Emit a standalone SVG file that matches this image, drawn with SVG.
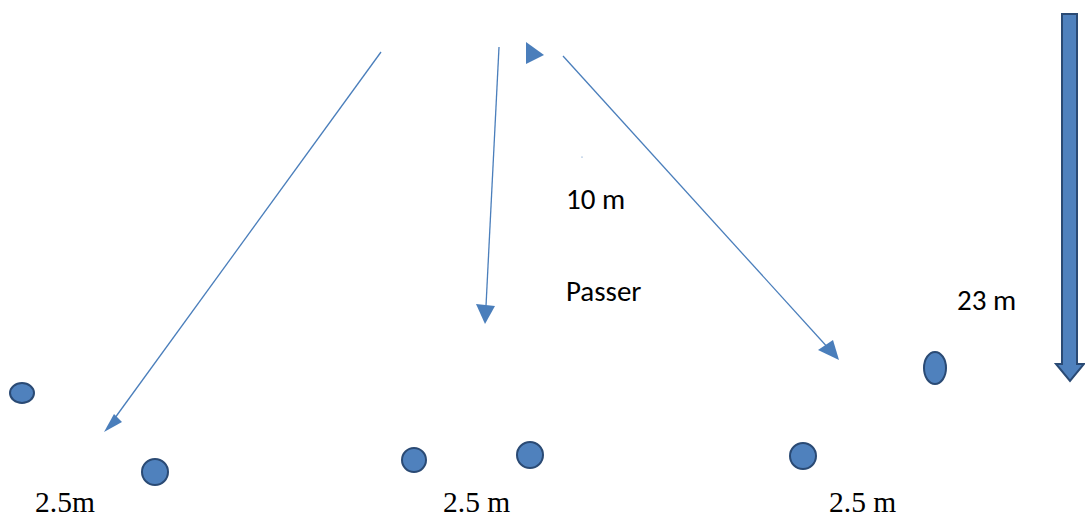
<svg xmlns="http://www.w3.org/2000/svg" width="1085" height="517" viewBox="0 0 1085 517">
<style>
.ln{stroke:#4a7ebb;stroke-width:1.3;fill:none}
.ah{fill:#4a7ebb;stroke:none}
.pl{fill:#4f81bd;stroke:#2a4a74;stroke-width:2}
.cal{font-family:Carlito,"Open Sans","Liberation Sans",sans-serif;fill:#000;font-size:29px}
.tnr{font-family:"Liberation Serif",serif;font-size:29.5px;fill:#000}
</style>
<rect width="1085" height="517" fill="#fff"/>
<g id="connectors">
<line class="ln" x1="381" y1="52" x2="112" y2="422"/>
<polygon class="ah" points="104,432 114,414 122,422"/>
<line class="ln" x1="499" y1="47" x2="486" y2="306"/>
<polygon class="ah" points="485,324 476,304 495,306"/>
<polygon class="ah" points="526,42 544,55 526,64"/>
<line class="ln" x1="563" y1="56" x2="830" y2="350"/>
<polygon class="ah" points="839,360 818,350 833,340"/>
<circle cx="582" cy="157" r="0.6" fill="#4a7ebb"/>
</g>
<g id="bigarrow">
<polygon class="pl" points="1062,14 1077,14 1077,364 1084,364 1070,381 1056,364 1062,364"/>
</g>
<g id="p1"><ellipse class="pl" cx="22" cy="393" rx="12" ry="10"/></g>
<g id="p2"><circle class="pl" cx="155" cy="472" r="13"/></g>
<g id="p3"><circle class="pl" cx="414" cy="460" r="12"/></g>
<g id="p4"><circle class="pl" cx="530" cy="455" r="13"/></g>
<g id="p5"><circle class="pl" cx="803" cy="456" r="13"/></g>
<g id="p6"><ellipse class="pl" cx="935" cy="368" rx="11" ry="16"/></g>
<g id="labels">
<text class="cal" x="566" y="209">10 m</text>
<text class="cal" x="566" y="301">Passer</text>
<text class="cal" x="957" y="310">23 m</text>
<text class="tnr" x="35" y="512">2.5m</text>
<text class="tnr" x="443" y="512">2.5 m</text>
<text class="tnr" x="829" y="512">2.5 m</text>
</g>
</svg>
